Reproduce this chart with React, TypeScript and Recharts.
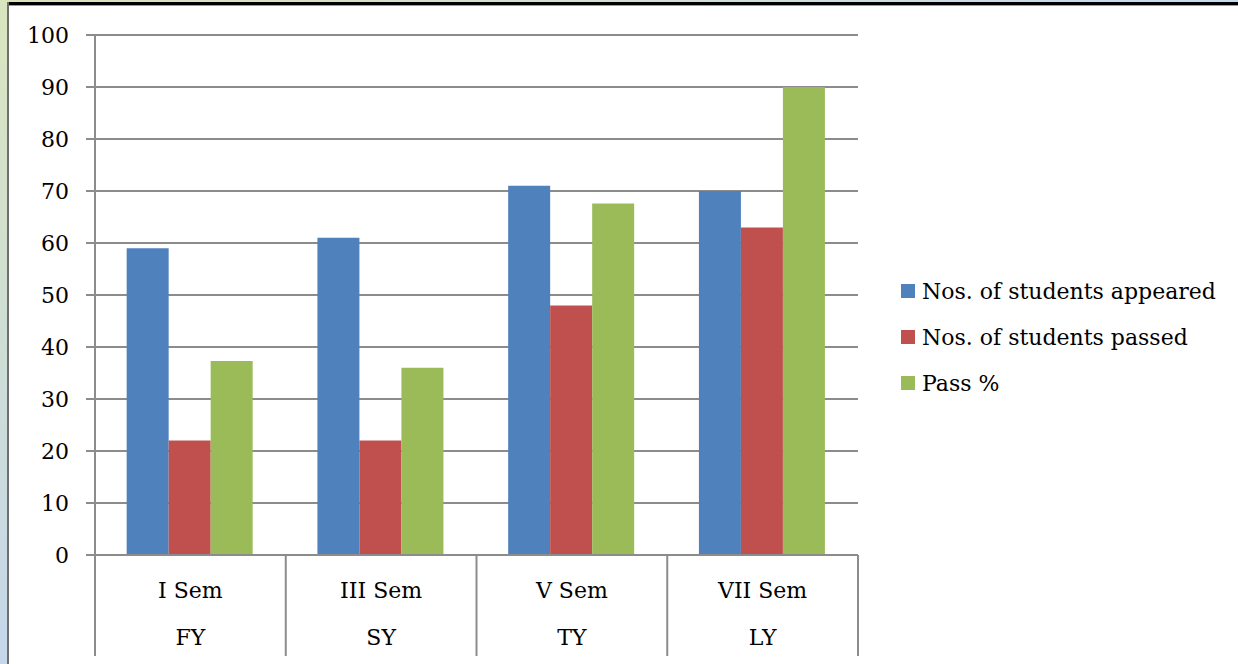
import React from 'react';
import { BarChart, Bar, XAxis, YAxis, CartesianGrid } from 'recharts';

const semesters = ['I Sem', 'III Sem', 'V Sem', 'VII Sem'];
const years = ['FY', 'SY', 'TY', 'LY'];
const appeared = [59, 61, 71, 70];
const passed = [22, 22, 48, 63];
const passPct = [37.3, 36, 67.6, 90];
const yTicks = [0, 10, 20, 30, 40, 50, 60, 70, 80, 90, 100];

const seriesNames = ['Nos. of students appeared', 'Nos. of students passed', 'Pass %'];
const seriesColors = ['#4f81bd', '#c0504d', '#9bbb59'];

const data = semesters.map((s, i) => ({
  sem: s,
  year: years[i],
  appeared: appeared[i],
  passed: passed[i],
  passPct: passPct[i],
}));

const FONT = '"DejaVu Serif", serif';
const GRID = '#8c8c8c';

function CategoryTick(props: any) {
  const { x, y, payload, index } = props;
  const half = payload?.offset ?? 0;
  const row = data[index] ?? data.find(d => d.sem === payload.value);
  const isLast = index === data.length - 1;
  return (
    <g>
      <line x1={x - half} y1={y} x2={x - half} y2={y + 101} stroke={GRID} strokeWidth={2} />
      {isLast && (
        <line x1={x + half} y1={y} x2={x + half} y2={y + 101} stroke={GRID} strokeWidth={2} />
      )}
      <text x={x} y={y + 35} textAnchor="middle" dominantBaseline="central"
        fontFamily={FONT} fontSize={22} fill="#000">{payload.value}</text>
      <text x={x} y={y + 82} textAnchor="middle" dominantBaseline="central"
        fontFamily={FONT} fontSize={22} fill="#000">{row?.year}</text>
    </g>
  );
}

export default function App() {
  return (
    <div style={{ position: 'absolute', left: 0, top: 0, width: 1238, height: 664, background: '#fff', overflow: 'hidden' }}>
      {/* window frame bits */}
      <div style={{ position: 'absolute', left: 0, top: 0, width: 1238, height: 2, background: 'linear-gradient(to right, #dde3b8, #c6d9f1)' }} />
      <div style={{ position: 'absolute', left: 0, top: 2, width: 1238, height: 3, background: '#000' }} />
      <div style={{ position: 'absolute', left: 0, top: 5, width: 1238, height: 1, background: '#9a9a9a' }} />
      <div style={{ position: 'absolute', left: 0, top: 0, width: 7, height: 664, background: 'linear-gradient(to bottom, #d9e5bf, #c5d7ea)' }} />
      <div style={{ position: 'absolute', left: 7, top: 2, width: 2, height: 662, background: '#6f6f6f' }} />

      <div style={{ position: 'absolute', left: 0, top: 0 }}>
        <BarChart
          width={1238}
          height={664}
          data={data}
          margin={{ top: 35, right: 380, bottom: 0, left: 0 }}
          barGap={0}
          barCategoryGap="16.6%"
        >
          <CartesianGrid vertical={false} stroke={GRID} strokeWidth={2} />
          <YAxis
            domain={[0, 100]}
            ticks={yTicks}
            width={95}
            interval={0}
            axisLine={{ stroke: GRID, strokeWidth: 2 }}
            tickLine={{ stroke: GRID, strokeWidth: 2 }}
            tickSize={9}
            tickMargin={17}
            tick={{ fill: '#000', fontSize: 22, fontFamily: FONT }}
          />
          <XAxis
            dataKey="sem"
            height={109}
            interval={0}
            axisLine={{ stroke: GRID, strokeWidth: 2 }}
            tickLine={false}
            tickSize={0}
            tickMargin={0}
            tick={<CategoryTick />}
          />
          <Bar dataKey="appeared" name={seriesNames[0]} fill={seriesColors[0]} isAnimationActive={false} />
          <Bar dataKey="passed" name={seriesNames[1]} fill={seriesColors[1]} isAnimationActive={false} />
          <Bar dataKey="passPct" name={seriesNames[2]} fill={seriesColors[2]} isAnimationActive={false} />
        </BarChart>
      </div>

      <div style={{ position: 'absolute', left: 901, top: 268, fontFamily: FONT, fontSize: 22, color: '#000' }}>
        {seriesNames.map((n, i) => (
          <div key={n} style={{ display: 'flex', alignItems: 'center', height: 46 }}>
            <span style={{ display: 'inline-block', width: 14, height: 14, background: seriesColors[i], marginRight: 7 }} />
            <span style={{ whiteSpace: 'nowrap' }}>{n}</span>
          </div>
        ))}
      </div>
    </div>
  );
}
